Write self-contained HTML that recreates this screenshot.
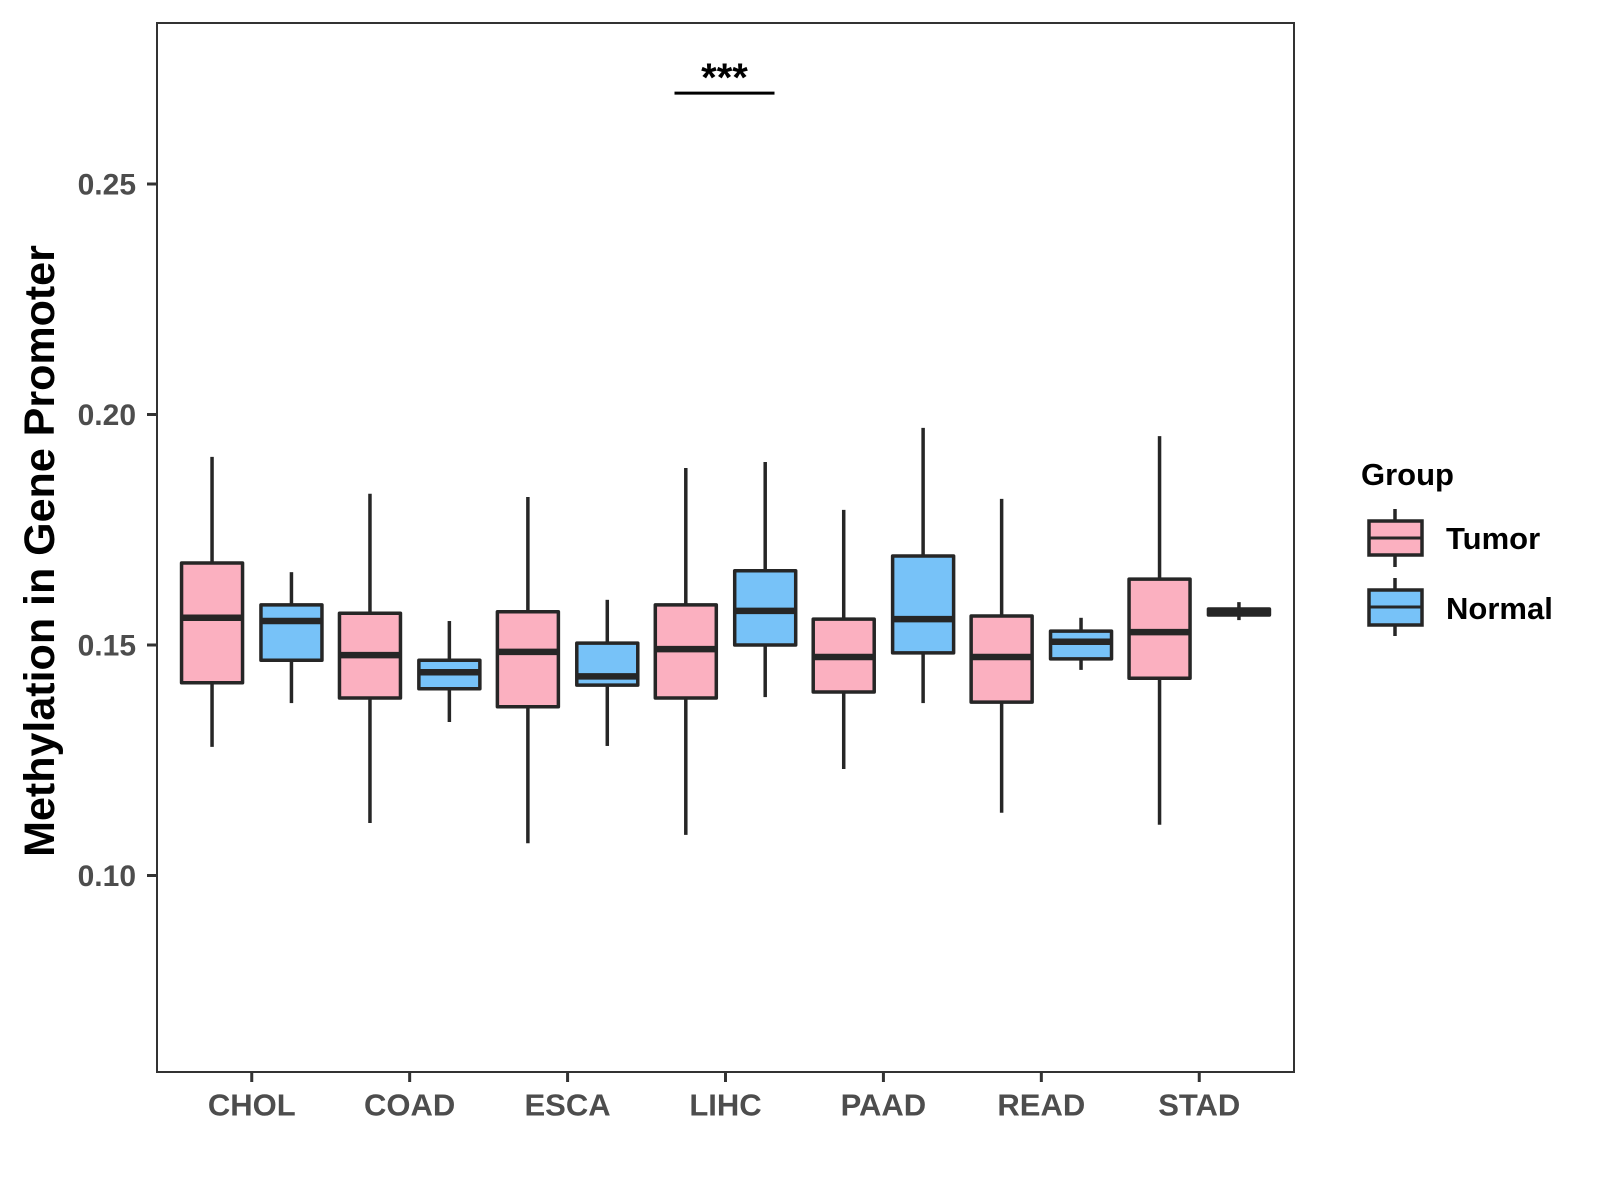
<!DOCTYPE html>
<html><head><meta charset="utf-8"><style>
html,body{margin:0;padding:0;background:#fff;}
svg{display:block;font-family:"Liberation Sans",Arial,sans-serif;}
</style></head><body>
<svg id="chart" width="1600" height="1200" viewBox="0 0 1600 1200">
<rect x="0" y="0" width="1600" height="1200" fill="#fff"/>
<g id="plot"></g>
<rect x="157" y="23" width="1137" height="1049" fill="none" stroke="#333" stroke-width="2"/>
<text x="40" y="551" transform="rotate(-90 40 551)" text-anchor="middle" dominant-baseline="central" font-size="43" font-weight="bold" fill="#000">Methylation in Gene Promoter</text>
<g transform="translate(-7,0)">
<text x="1368" y="485" font-size="31" font-weight="bold" fill="#000">Group</text>
<g>
<line x1="1402" y1="509" x2="1402" y2="567" stroke="#262626" stroke-width="3.5"/>
<rect x="1376" y="521" width="53" height="34" fill="#FBB0C0" stroke="#262626" stroke-width="3.5"/>
<line x1="1376" y1="538" x2="1429" y2="538" stroke="#262626" stroke-width="3"/>
<text x="1453" y="549" font-size="31" font-weight="bold" fill="#000">Tumor</text>
</g>
<g>
<line x1="1402" y1="578" x2="1402" y2="636" stroke="#262626" stroke-width="3.5"/>
<rect x="1376" y="590" width="53" height="35" fill="#77C2F8" stroke="#262626" stroke-width="3.5"/>
<line x1="1376" y1="607" x2="1429" y2="607" stroke="#262626" stroke-width="3"/>
<text x="1453" y="619" font-size="31" font-weight="bold" fill="#000">Normal</text>
</g>
</g>
</svg>
<script>
const categories = ["CHOL","COAD","ESCA","LIHC","PAAD","READ","STAD"];
const groups = ["Tumor","Normal"];
// [lowerWhisker, q1, median, q3, upperWhisker]
const tumorStats = [
  [0.1279,0.1418,0.1559,0.1678,0.1908],
  [0.1114,0.1385,0.1478,0.1569,0.1828],
  [0.1070,0.1366,0.1485,0.1572,0.1821],
  [0.1088,0.1385,0.1491,0.1587,0.1884],
  [0.1231,0.1398,0.1474,0.1556,0.1793],
  [0.1136,0.1376,0.1474,0.1563,0.1817],
  [0.1110,0.1428,0.1528,0.1643,0.1953]
];
const normalStats = [
  [0.1374,0.1467,0.1552,0.1587,0.1658],
  [0.1333,0.1405,0.1441,0.1467,0.1552],
  [0.1281,0.1413,0.1432,0.1504,0.1598],
  [0.1387,0.1500,0.1574,0.1661,0.1897],
  [0.1374,0.1483,0.1556,0.1693,0.1971],
  [0.1446,0.1470,0.1507,0.1530,0.1559],
  [0.1554,0.1565,0.1574,0.1578,0.1593]
];
const yTicks = [0.10,0.15,0.20,0.25];
const yTickLabels = ["0.10","0.15","0.20","0.25"];
const sigValue = 0.2697;
const sigLabel = "***";
const sigCategory = "LIHC";

const NS="http://www.w3.org/2000/svg";
const P={l:157,r:1294,t:23,b:1072};
const y = v => 645 - (v-0.15)*4610;
const step = (P.r-P.l)/7.2;
const x = i => P.l + (i+0.6)*step;
const dodge = 39.7, boxW = 61;
const g=document.getElementById('plot');
function el(tag,attrs,parent){const e=document.createElementNS(NS,tag);for(const k in attrs)e.setAttribute(k,attrs[k]);(parent||g).appendChild(e);return e;}

yTicks.forEach((v,i)=>{
  const t=el('line',{x1:P.l-10,x2:P.l,y1:y(v),y2:y(v),stroke:'#333','stroke-width':3});
  
  
  const lb=el('text',{x:P.l-21,y:y(v)+1,'text-anchor':'end','dominant-baseline':'central','font-size':30,'font-weight':'bold',fill:'#4d4d4d'});
  lb.textContent=yTickLabels[i];
  
  
});
categories.forEach((c,i)=>{
  const t=el('line',{x1:x(i),x2:x(i),y1:P.b,y2:P.b+10,stroke:'#333','stroke-width':3});
  
  
  const lb=el('text',{x:x(i),y:1105,'text-anchor':'middle','dominant-baseline':'central','font-size':31,'font-weight':'bold',fill:'#4d4d4d'});
  lb.textContent=c;
  
  
});
function box(cx,s,fill,name){
  const bg=el('g',{});
  
  
  el('line',{x1:cx,x2:cx,y1:y(s[4]),y2:y(s[3]),stroke:'#262626','stroke-width':3.5},bg);
  el('line',{x1:cx,x2:cx,y1:y(s[1]),y2:y(s[0]),stroke:'#262626','stroke-width':3.5},bg);
  el('rect',{x:cx-boxW/2,y:y(s[3]),width:boxW,height:Math.max(0.5,y(s[1])-y(s[3])),fill:fill,stroke:'#262626','stroke-width':3.5,'stroke-linejoin':'round'},bg);
  el('line',{x1:cx-boxW/2,x2:cx+boxW/2,y1:y(s[2]),y2:y(s[2]),stroke:'#262626','stroke-width':6.5},bg);
}
categories.forEach((c,i)=>{
  box(x(i)-dodge,tumorStats[i],'#FBB0C0','box-'+c.toLowerCase()+'-tumor');
  box(x(i)+dodge,normalStats[i],'#77C2F8','box-'+c.toLowerCase()+'-normal');
});
const si=categories.indexOf(sigCategory);
const sl=el('line',{x1:x(si)-51,x2:x(si)+49,y1:y(sigValue),y2:y(sigValue),stroke:'#000','stroke-width':3});


const st=el('text',{x:x(si)-1,y:y(sigValue)-2,'text-anchor':'middle','font-size':40,'font-weight':'bold',fill:'#000'});
st.textContent=sigLabel;


</script>
</body></html>
